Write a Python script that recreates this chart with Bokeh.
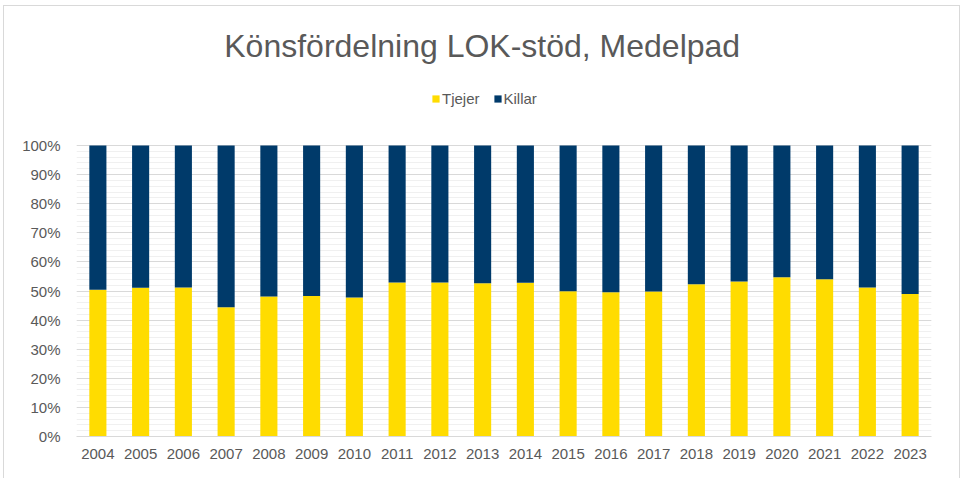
from bokeh.plotting import figure
from bokeh.models import (ColumnDataSource, FactorRange, Range1d, SingleIntervalTicker,
                          PrintfTickFormatter, Legend, LegendItem, Label)
from bokeh.embed import file_html
from bokeh.resources import INLINE

years = [str(y) for y in range(2004, 2024)]
tjejer = [50.4, 51.1, 51.2, 44.4, 48.1, 48.3, 47.8, 52.9, 52.9, 52.7,
          52.8, 49.9, 49.6, 49.8, 52.3, 53.3, 54.7, 54.0, 51.2, 49.0]
killar = [round(100 - t, 1) for t in tjejer]
series = ["Tjejer", "Killar"]
colors = ["#FFDC00", "#003A6A"]
title = "Könsfördelning LOK-stöd, Medelpad"

FONT = "Liberation Sans"
GRAY = "#595959"

src = ColumnDataSource(dict(year=years, Tjejer=tjejer, Killar=killar))

TOP = 6  # page offset of the canvas (margin + border)
p = figure(x_range=FactorRange(*years, range_padding=0),
           y_range=Range1d(0, 100 * (436 - TOP) / 291),
           output_backend="svg", toolbar_location=None,
           min_border_left=72, min_border_right=28, min_border_top=0, min_border_bottom=42,
           frame_width=855, frame_height=436 - TOP,
           styles={"margin-left": "3px", "margin-top": "5px",
                   "border": "1px solid #D9D9D9", "border-bottom": "none"})

renderers = p.vbar_stack(series, x="year", width=0.4, color=colors, source=src,
                         line_color=None)

p.add_layout(Label(x=9.49, y=100 * (436 - 45) / 291, text=title, text_align="center",
                   text_baseline="middle", text_font=FONT, text_font_size="32px",
                   text_color=GRAY))

legend = Legend(items=[LegendItem(label=s, renderers=[r]) for s, r in zip(series, renderers)],
                orientation="horizontal", location=(355, 329),
                label_text_font=FONT, label_text_font_size="15px", label_text_color=GRAY,
                glyph_width=9, glyph_height=9, label_standoff=2, spacing=13,
                border_line_color=None, background_fill_alpha=0, padding=0,
                margin=0)
p.add_layout(legend)

p.outline_line_color = None
p.xgrid.grid_line_color = None
p.yaxis.ticker = SingleIntervalTicker(interval=10, num_minor_ticks=5)
p.yaxis.formatter = PrintfTickFormatter(format="%d%%")
p.yaxis.bounds = (0, 100)
p.ygrid.bounds = (0, 100)
p.ygrid.grid_line_color = "#D9D9D9"
p.ygrid.minor_grid_line_color = "#F0F0F0"

for ax in (p.xaxis, p.yaxis):
    ax.axis_line_color = None
    ax.major_tick_line_color = None
    ax.minor_tick_line_color = None
    ax.major_label_text_font = FONT
    ax.major_label_text_font_size = "15px"
    ax.major_label_text_color = GRAY
p.xaxis.axis_line_color = "#D9D9D9"
p.xaxis.major_label_standoff = 6
p.yaxis.major_label_standoff = 10
p.xaxis.group_text_font_size = "0px"

open("out.html", "w").write(file_html(p, INLINE))
